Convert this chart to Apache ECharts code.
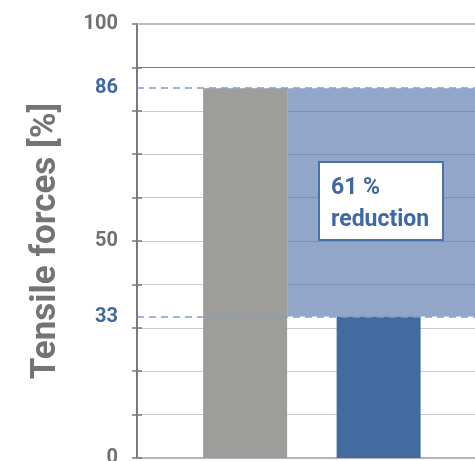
<!DOCTYPE html>
<html>
<head>
<meta charset="utf-8">
<script src="https://cdn.jsdelivr.net/npm/echarts@6/dist/echarts.min.js"></script>
<style>
html,body{margin:0;padding:0;background:#fff;}
#c{width:475px;height:461px;}
</style>
</head>
<body>
<div id="c"></div>
<script>
// ---- data ----
var categories = ['Before', 'After'];
var catPositions = [1, 2];
var values = [85.2, 32.6];
var refLabels = ['86', '33'];
var axisTickLabels = [0, 50, 100];
var reductionText = ['61 %', 'reduction'];
var yTitle = 'Tensile forces [%]';

var barColors = ['#9d9d9b', '#436ba0'];
var blueText = '#3f69a3';
var grayText = '#707070';

var xMin = 0.19, xMax = 2.722;
var unitPx = 133.5, barPx = 84;

var chart = echarts.init(document.getElementById('c'), null, {renderer: 'canvas'});

var splitColors = [];
for (var i = 0; i <= 10; i++) splitColors.push('#cbcbcb');
splitColors[9] = '#7c7c7c';
splitColors[10] = '#bdbdbd';

var option = {
  animation: false,
  grid: {left: 137, right: 0, top: 24, bottom: 3, containLabel: false, outerBoundsMode: 'none'},
  xAxis: {
    type: 'value', min: xMin, max: xMax,
    axisLine: {show: true, onZero: false, lineStyle: {color: '#b5b5b5', width: 2}},
    axisTick: {show: false}, axisLabel: {show: false}, splitLine: {show: false}
  },
  yAxis: [{
    type: 'value', min: 0, max: 100, interval: 10,
    name: yTitle, nameLocation: 'middle', nameRotate: 90, nameGap: 73,
    nameTextStyle: {fontFamily: 'Roboto', fontWeight: 'bold', fontSize: 35, color: '#747474'},
    axisLine: {show: true, lineStyle: {color: '#7a7a7a', width: 2}},
    axisTick: {show: true, length: 5, lineStyle: {color: '#7a7a7a', width: 1.5}},
    axisLabel: {
      margin: 19, fontFamily: 'Roboto', fontWeight: 'bold', fontSize: 20, color: grayText,
      formatter: function (v) { return axisTickLabels.indexOf(v) >= 0 ? String(v) : ''; }
    },
    splitLine: {show: true, lineStyle: {color: splitColors, width: 1}}
  }, {
    type: 'value', min: 0, max: 100, interval: 10, position: 'left',
    axisLine: {show: false},
    axisTick: {show: true, inside: true, length: 5, lineStyle: {color: '#7a7a7a', width: 1.5}},
    axisLabel: {show: false}, splitLine: {show: false}
  }],
  series: [{
    type: 'bar',
    barWidth: barPx,
    data: values.map(function (v, i) {
      return {name: categories[i], value: [catPositions[i], v], itemStyle: {color: barColors[i]}};
    }),
    markArea: {
      silent: true,
      itemStyle: {color: 'rgba(61,98,160,0.57)'},
      data: [[
        {xAxis: catPositions[0] + barPx / 2 / unitPx, yAxis: values[0]},
        {xAxis: xMax, yAxis: values[1]}
      ]]
    },
    markLine: {
      silent: true, symbol: 'none',
      data: [
        {yAxis: 100, lineStyle: {type: 'solid', color: '#bdbdbd', width: 2}, label: {show: false}}
      ].concat(values.map(function (v, i) {
        return {
          yAxis: v,
          lineStyle: {type: [7, 5], color: '#7f9dca', width: 1.5},
          label: {
            show: true, position: 'start', distance: 19, formatter: refLabels[i],
            fontFamily: 'Roboto', fontWeight: 'bold', fontSize: 20, color: blueText
          }
        };
      }))
    }
  }],
  graphic: [{
    type: 'group', left: 318, top: 161, z: 100,
    children: [{
      type: 'rect', z: 100, shape: {x: 0, y: 0, width: 124, height: 78},
      style: {fill: '#ffffff', stroke: '#4a71a8', lineWidth: 2}
    }, {
      type: 'text', z: 101, x: 12, y: 10,
      style: {
        text: reductionText.join('\n'),
        fontFamily: 'Roboto', fontWeight: 'bold', fontSize: 23, lineHeight: 32,
        fill: blueText
      }
    }]
  }]
};
chart.setOption(option);
</script>
</body>
</html>
